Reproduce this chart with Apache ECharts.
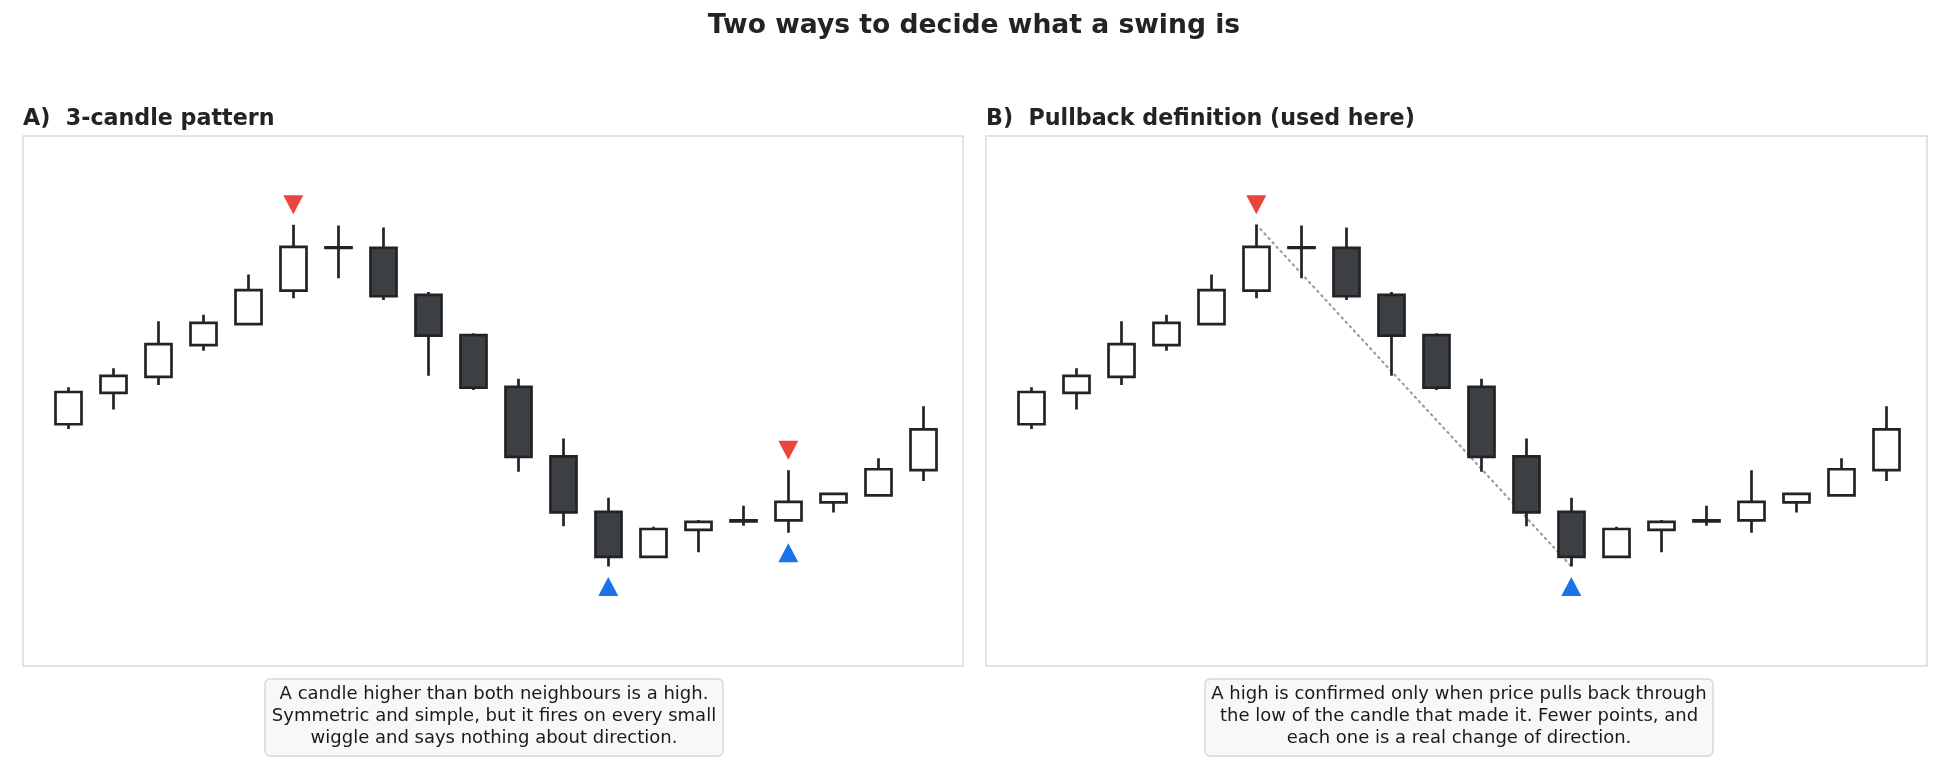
<!DOCTYPE html>
<html>
<head>
<meta charset="utf-8">
<script src="https://cdn.jsdelivr.net/npm/echarts@6/dist/echarts.min.js"></script>
<style>
  html, body { margin: 0; padding: 0; background: #ffffff; }
  #chart { width: 1950px; height: 780px; }
</style>
</head>
<body>
<div id="chart"></div>
<script>
// ---- data ----
const categories = ['1','2','3','4','5','6','7','8','9','10','11','12','13','14','15','16','17','18','19','20'];
const opens  = [139.2,145.8,149.2,155.9,160.3,167.4,176.5,176.4,166.5,158.0,147.1,132.4,120.7,111.2,116.9,118.9,118.9,122.7,124.2,129.5];
const closes = [146.0,149.4,156.1,160.6,167.5,176.6,176.4,166.2,157.9,146.9,132.3,120.6,111.2,117.1,118.6,118.7,122.8,124.5,129.7,138.1];
const lows   = [138.2,142.3,147.5,154.7,160.1,165.8,170.0,165.4,149.4,146.4,129.2,117.7,109.2,111.0,112.2,117.8,116.3,120.6,124.1,127.2];
const highs  = [147.0,151.0,160.9,162.3,170.8,181.3,181.1,180.7,167.1,158.4,148.8,136.2,123.7,117.6,119.0,122.0,129.5,124.7,132.0,143.0];

// swing points (candle indices)
const swingHighsA = [5, 16];
const swingLowsA  = [12, 16];
const swingHighsB = [5];
const swingLowsB  = [12];

const mainTitle = 'Two ways to decide what a swing is';
const titleA = 'A)  3-candle pattern';
const titleB = 'B)  Pullback definition (used here)';
const noteA = 'A candle higher than both neighbours is a high.\nSymmetric and simple, but it fires on every small\nwiggle and says nothing about direction.';
const noteB = 'A high is confirmed only when price pulls back through\nthe low of the candle that made it. Fewer points, and\neach one is a real change of direction.';

// ---- build ----
const ohlc = categories.map((c, i) => [opens[i], closes[i], lows[i], highs[i]]);
const RED = '#e8453c', BLUE = '#1a73e8', INK = '#222326', DARK = '#3c4043';

const candleStyle = {
  color: '#ffffff', color0: DARK,
  borderColor: INK, borderColor0: INK,
  borderWidth: 2.7
};

function candles(gi) {
  return {
    type: 'candlestick', xAxisIndex: gi, yAxisIndex: gi,
    data: ohlc, barWidth: 26, itemStyle: candleStyle, silent: true, z: 3
  };
}
function highMarks(gi, idx) {
  return {
    type: 'scatter', xAxisIndex: gi, yAxisIndex: gi, silent: true, z: 4,
    symbol: 'triangle', symbolRotate: 180, symbolSize: [20, 19], symbolOffset: [0, -20],
    itemStyle: { color: RED, opacity: 1 },
    data: idx.map(i => [i, highs[i]])
  };
}
function lowMarks(gi, idx) {
  return {
    type: 'scatter', xAxisIndex: gi, yAxisIndex: gi, silent: true, z: 4,
    symbol: 'triangle', symbolSize: [20, 19], symbolOffset: [0, 20],
    itemStyle: { color: BLUE, opacity: 1 },
    data: idx.map(i => [i, lows[i]])
  };
}

const gridTop = 136, gridH = 530;
const frameStyle = { fill: 'none', stroke: '#d9dadd', lineWidth: 1.5 };
const noteStyle = {
  fontFamily: 'DejaVu Sans', fontSize: 18, fontWeight: 'normal', color: '#1a1a1a', lineHeight: 21.6, align: 'center'
};

const option = {
  animation: false,
  backgroundColor: '#ffffff',
  title: [
    { text: mainTitle, left: 969, top: 8, textAlign: 'center',
      textStyle: { fontFamily: 'DejaVu Sans', fontWeight: 'bold', fontSize: 26.6, color: '#222326' } },
    { text: titleA, left: 23, top: 108, padding: [0,0,0,0],
      textStyle: { fontFamily: 'DejaVu Sans', fontWeight: 'bold', fontSize: 22.2, color: '#222326' } },
    { text: titleB, left: 986, top: 108, padding: [0,0,0,0],
      textStyle: { fontFamily: 'DejaVu Sans', fontWeight: 'bold', fontSize: 22.2, color: '#222326' } },
    { text: noteA, left: 487, top: 679, textAlign: 'center',
      backgroundColor: '#f7f8fa', borderColor: '#d6d8dc', borderWidth: 1.5, borderRadius: 5,
      padding: [5, 7, 7, 7], textStyle: noteStyle },
    { text: noteB, left: 1452, top: 679, textAlign: 'center',
      backgroundColor: '#f7f8fa', borderColor: '#d6d8dc', borderWidth: 1.5, borderRadius: 5,
      padding: [5, 7, 7, 7], textStyle: noteStyle }
  ],
  graphic: [
    { type: 'rect', shape: { x: 23, y: gridTop, width: 940, height: gridH }, style: frameStyle, silent: true },
    { type: 'rect', shape: { x: 986, y: gridTop, width: 941, height: gridH }, style: frameStyle, silent: true }
  ],
  grid: [
    { left: 45.8, top: gridTop, width: 900, height: gridH, show: false },
    { left: 1008.8, top: gridTop, width: 900, height: gridH, show: false }
  ],
  xAxis: [0, 1].map(g => ({
    type: 'category', gridIndex: g, data: categories, boundaryGap: true, show: false
  })),
  yAxis: [0, 1].map(g => ({
    type: 'value', gridIndex: g, min: 88.2, max: 200, show: false, scale: true
  })),
  series: [
    candles(0),
    highMarks(0, swingHighsA),
    lowMarks(0, swingLowsA),
    candles(1),
    {
      type: 'line', xAxisIndex: 1, yAxisIndex: 1, silent: true, z: 2,
      symbol: 'none',
      lineStyle: { color: '#9a9ca0', width: 2.2, type: [1.5, 4.5], cap: 'round' },
      data: [[swingHighsB[0], highs[swingHighsB[0]]], [swingLowsB[0], lows[swingLowsB[0]]]]
    },
    highMarks(1, swingHighsB),
    lowMarks(1, swingLowsB)
  ]
};

const chart = echarts.init(document.getElementById('chart'), null, { renderer: 'canvas' });
chart.setOption(option);
</script>
</body>
</html>
